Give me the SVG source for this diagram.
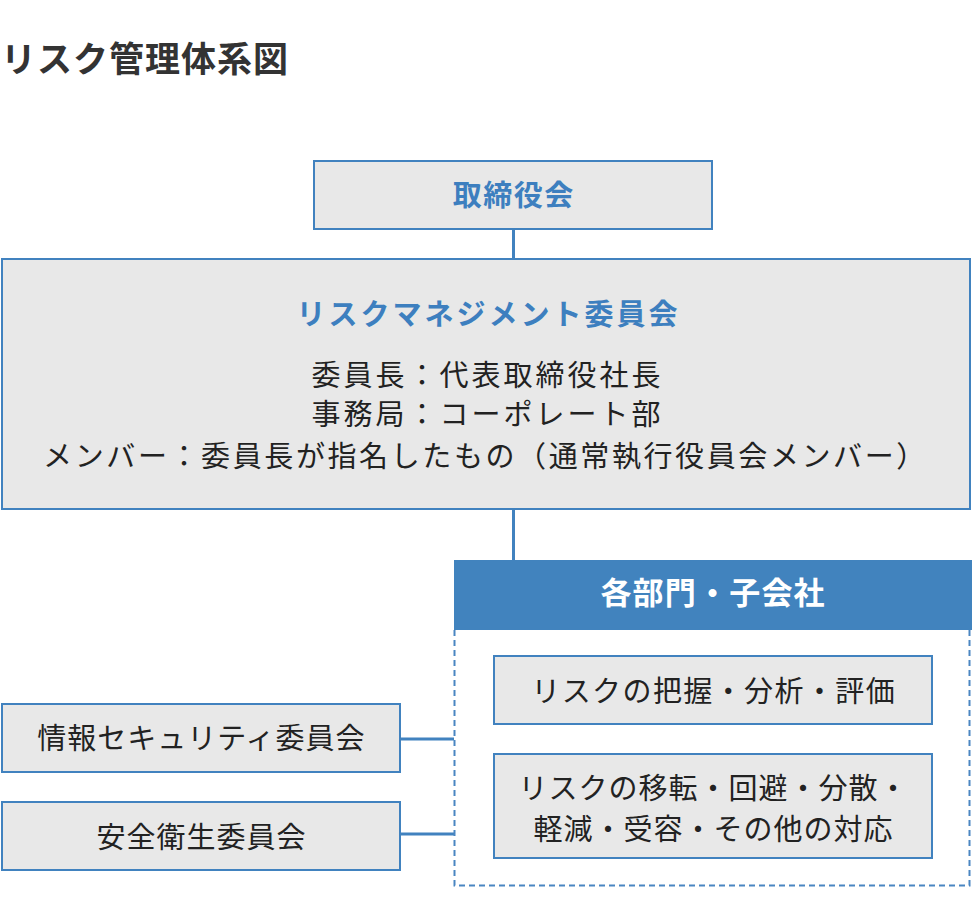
<svg xmlns="http://www.w3.org/2000/svg" width="972" height="906" viewBox="0 0 972 906">
<style>
text{font-family:"Noto Sans CJK JP","Noto Sans CJK SC",sans-serif;}
.box{fill:#e8e8e8;stroke:#4182bf;stroke-width:2;}
.head{fill:#4183be;}
.dash{fill:none;stroke:#4a86c2;stroke-width:2;stroke-dasharray:6 4;}
.conn{stroke:#4182bf;stroke-width:3;fill:none;}
.title{font-size:35px;font-weight:700;fill:#333;letter-spacing:1px;}
.bt{font-size:29px;font-weight:700;fill:#3d7fbf;text-anchor:middle;}
.tx{font-size:29px;font-weight:400;fill:#222;text-anchor:middle;}
.wt{font-size:31px;font-weight:700;fill:#fff;text-anchor:middle;letter-spacing:1.2px;}
</style>
<rect width="972" height="906" fill="#fff"/>
<text class="title" x="1" y="71.5">リスク管理体系図</text>

<g id="connectors">
<line class="conn" x1="513.5" y1="229" x2="513.5" y2="260"/>
<line class="conn" x1="513.5" y1="509" x2="513.5" y2="561"/>
<line class="conn" x1="400" y1="739" x2="454" y2="739"/>
<line class="conn" x1="400" y1="834" x2="454" y2="834"/>
</g>

<g id="board">
<rect class="box" x="314" y="161" width="398" height="68"/>
<text class="bt" x="513.75" y="206" style="letter-spacing:1.5px">取締役会</text>
</g>

<g id="rm-committee">
<rect class="box" x="2" y="259" width="968" height="250"/>
<text class="bt" x="488.5" y="325" style="letter-spacing:3px">リスクマネジメント委員会</text>
<text class="tx" x="487.5" y="385.5" style="letter-spacing:3px">委員長：代表取締役社長</text>
<text class="tx" x="487.5" y="424.5" style="letter-spacing:3px">事務局：コーポレート部</text>
<text class="tx" x="485.5" y="466.5" style="letter-spacing:2.6px">メンバー：委員長が指名したもの（通常執行役員会メンバー）</text>
</g>

<g id="departments">
<path class="dash" d="M454.5,630 V885.5 H969.5 V630"/>
<rect class="head" x="454" y="560" width="518" height="70"/>
<text class="wt" x="713.1" y="604">各部門・子会社</text>
</g>

<g id="risk-assess">
<rect class="box" x="494" y="656" width="438" height="68"/>
<text class="tx" x="713.7" y="702" style="letter-spacing:1.4px">リスクの把握・分析・評価</text>
</g>

<g id="risk-response">
<rect class="box" x="494" y="754" width="438" height="104"/>
<text class="tx" x="713.5" y="798.5" style="letter-spacing:1px">リスクの移転・回避・分散・</text>
<text class="tx" x="713.5" y="840" style="letter-spacing:1px">軽減・受容・その他の対応</text>
</g>

<g id="infosec">
<rect class="box" x="2" y="704" width="398" height="68"/>
<text class="tx" x="201.5" y="749" style="letter-spacing:1px">情報セキュリティ委員会</text>
</g>

<g id="safety">
<rect class="box" x="2" y="802" width="398" height="68"/>
<text class="tx" x="201.5" y="847.5" style="letter-spacing:1px">安全衛生委員会</text>
</g>
</svg>
